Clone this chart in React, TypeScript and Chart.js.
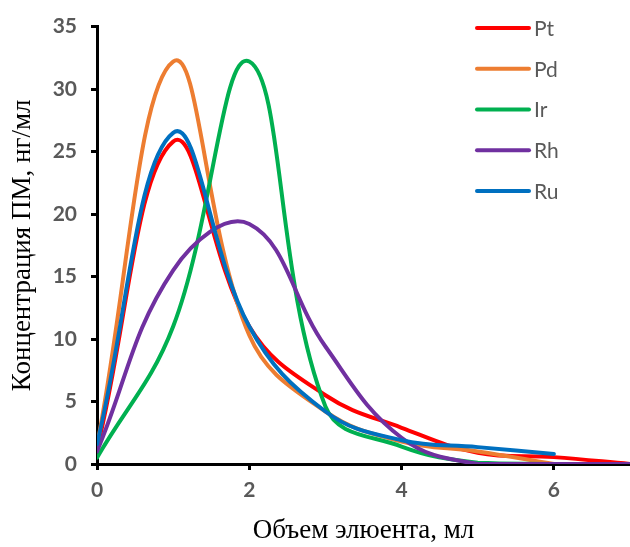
import React, { useEffect, useRef } from "react";
import { Chart, registerables } from "chart.js";

Chart.register(...registerables);

const xValues = [0, 1, 2, 3, 4, 5, 6, 7];
const ptValues = [1.2, 25.8, 11, 5.5, 2.9, 0.9, 0.55, 0];
const pdValues = [1.5, 32.2, 10.3, 4.2, 1.8, 1.0, 0];
const irValues = [0.5, 11, 32.2, 4.6, 1.4, 0.1, 0];
const rhValues = [1.0, 15.5, 19.2, 9.4, 2.1, 0, 0, 0];
const ruValues = [1.6, 26.5, 11, 4.2, 1.9, 1.35, 0.8];
const seriesNames = ["Pt", "Pd", "Ir", "Rh", "Ru"];
const seriesColors = ["#FF0000", "#ED7D31", "#00B050", "#7030A0", "#0070C0"];
const xTicks = [0, 2, 4, 6];
const yTicks = [0, 5, 10, 15, 20, 25, 30, 35];
const xTitle = "Объем элюента, мл";
const yTitle = "Концентрация ПМ, нг/мл";

const allSeries = [ptValues, pdValues, irValues, rhValues, ruValues];

const legendPlugin = {
  id: "customLegend",
  afterDraw(chart: any) {
    const ctx = chart.ctx;
    ctx.save();
    chart.data.datasets.forEach((ds: any, i: number) => {
      const y = 28 + i * 40.75;
      ctx.strokeStyle = ds.borderColor;
      ctx.lineWidth = 4;
      ctx.lineCap = "round";
      ctx.beginPath();
      ctx.moveTo(477, y);
      ctx.lineTo(529, y);
      ctx.stroke();
      ctx.fillStyle = "#595959";
      ctx.font = "21px Lato";
      ctx.textBaseline = "middle";
      ctx.textAlign = "left";
      ctx.fillText(ds.label, 534, y + 1);
    });
    ctx.restore();
  },
};

export default function App() {
  const ref = useRef<HTMLCanvasElement>(null);
  useEffect(() => {
    if (!ref.current) return;
    const datasets = allSeries.map((vals, i) => ({
      label: seriesNames[i],
      data: vals.map((v, j) => ({ x: xValues[j], y: v })),
      borderColor: seriesColors[i],
      backgroundColor: seriesColors[i],
      borderWidth: 4,
      borderCapStyle: "round" as const,
      pointRadius: 0,
      tension: 0.4,
      fill: false,
      order: 5 - i,
    }));
    const chart = new Chart(ref.current, {
      type: "line",
      data: { datasets },
      options: {
        animation: false,
        responsive: false,
        layout: { padding: { top: 24, left: 0, right: 0, bottom: 0 } },
        plugins: { legend: { display: false }, tooltip: { enabled: false } },
        scales: {
          x: {
            type: "linear",
            min: 0,
            max: 7,
            afterFit(scale: any) {
              scale.height = 83;
            },
            afterBuildTicks(axis: any) {
              axis.ticks = xTicks.map((v) => ({ value: v }));
            },
            grid: {
              drawOnChartArea: false,
              drawTicks: true,
              tickLength: 6,
              tickWidth: 3,
              tickColor: "#000",
            },
            border: { color: "#000", width: 3 },
            ticks: {
              color: "#595959",
              font: { family: "Lato", size: 21, weight: "bold" },
              padding: 8,
              maxRotation: 0,
            },
            title: {
              display: true,
              text: xTitle,
              color: "#000",
              font: { family: "Liberation Serif", size: 27 },
              padding: { top: 0, bottom: 0 },
            },
          },
          y: {
            type: "linear",
            min: 0,
            max: 35,
            afterFit(scale: any) {
              scale.width = 97;
            },
            afterBuildTicks(axis: any) {
              axis.ticks = yTicks.map((v) => ({ value: v }));
            },
            grid: {
              drawOnChartArea: false,
              drawTicks: true,
              tickLength: 6,
              tickWidth: 3,
              tickColor: "#000",
            },
            border: { color: "#000", width: 3 },
            ticks: {
              color: "#595959",
              font: { family: "Lato", size: 21, weight: "bold" },
              padding: 14,
            },
            title: {
              display: true,
              text: yTitle,
              color: "#000",
              font: { family: "Liberation Serif", size: 27 },
              padding: { top: 7, bottom: 0 },
            },
          },
        },
      },
      plugins: [legendPlugin],
    });
    return () => chart.destroy();
  }, []);
  return (
    <div style={{ position: "fixed", left: 0, top: 0, width: 630, height: 547, background: "#fff" }}>
      <canvas ref={ref} width={630} height={547} style={{ width: 630, height: 547 }} />
    </div>
  );
}
